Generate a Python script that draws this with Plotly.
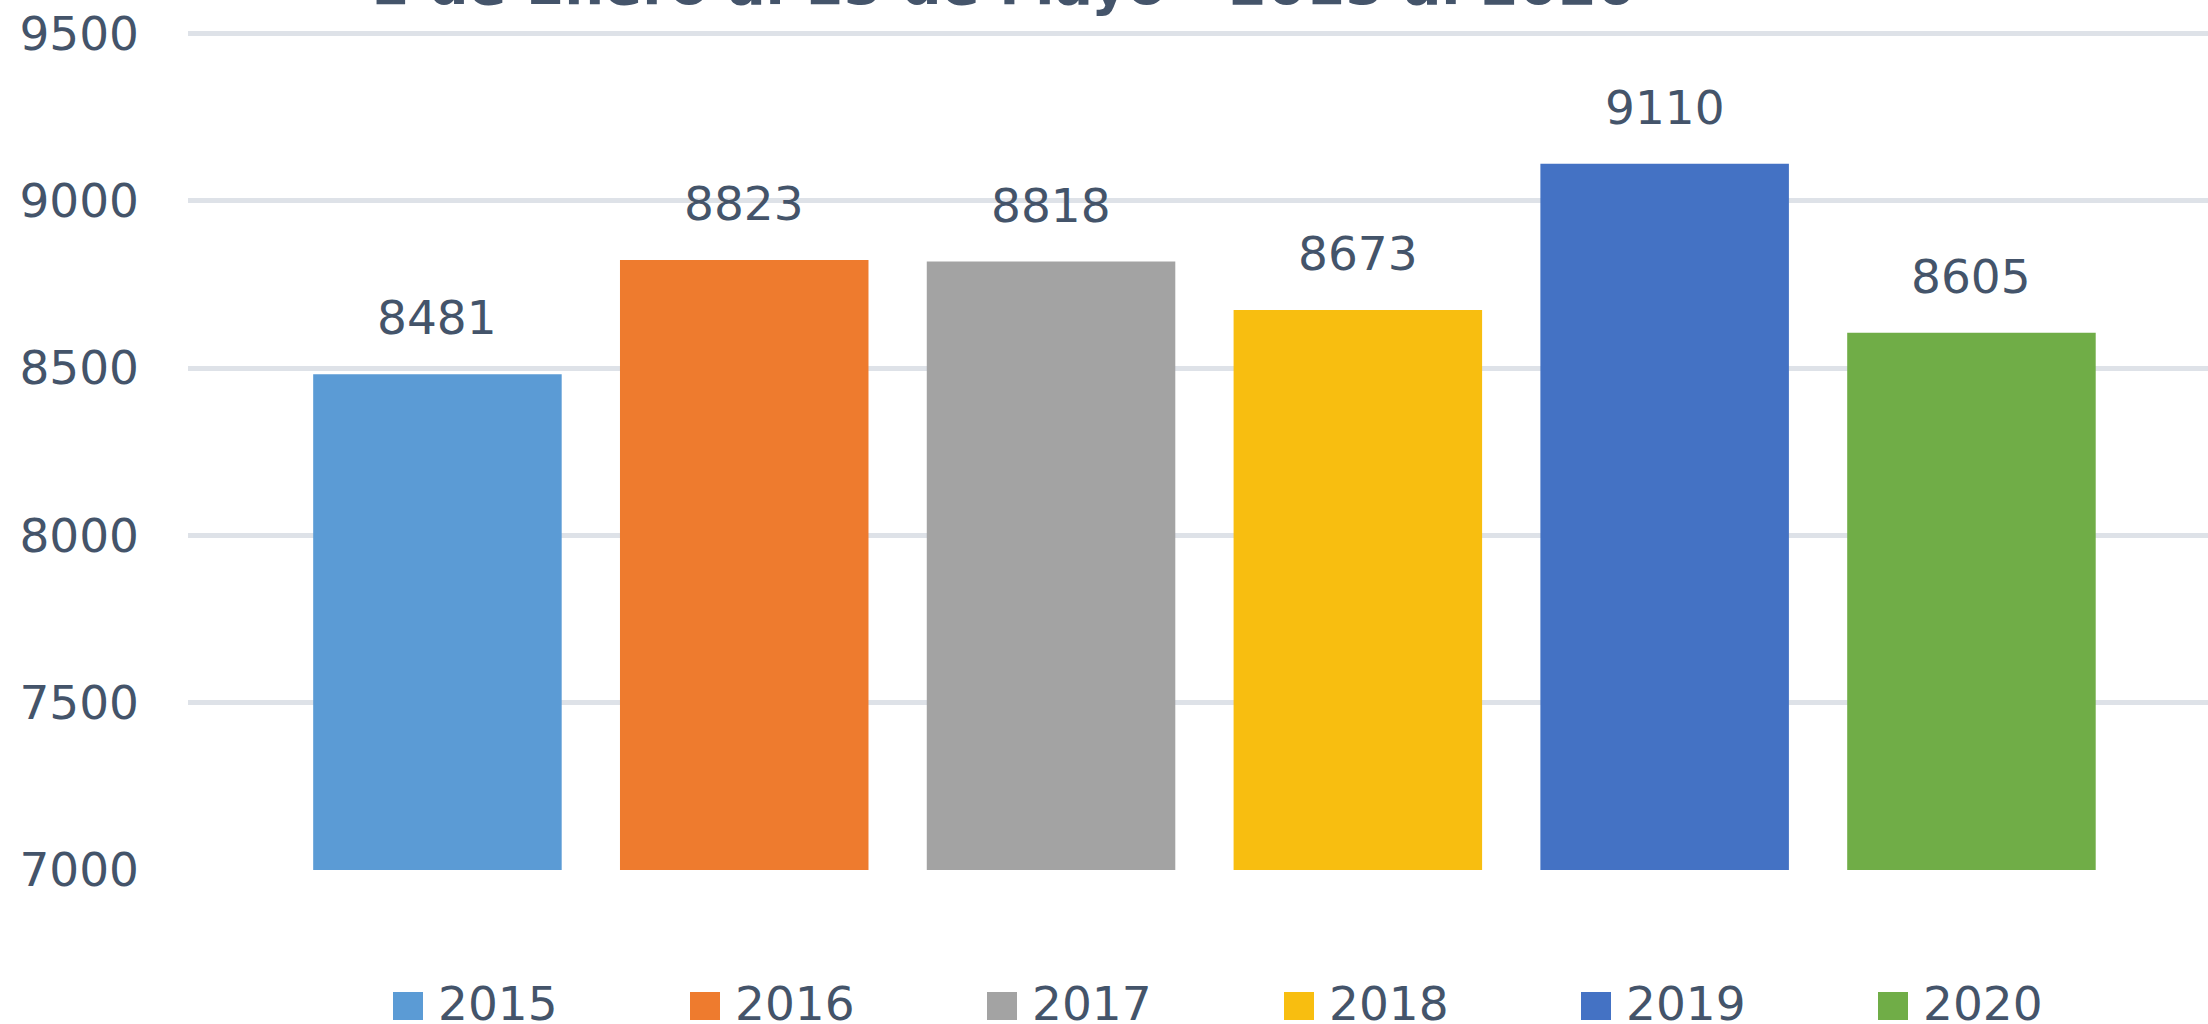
import plotly.graph_objects as go

# ---- data ----
years = ["2015", "2016", "2017", "2018", "2019", "2020"]
values = [8481, 8823, 8818, 8673, 9110, 8605]
colors = ["#5B9BD5", "#EE7B2E", "#A3A3A3", "#F8BE10", "#4472C4", "#70AD47"]
title_text = "1 de Enero al 15 de Mayo - 2015 al 2020"
y_ticks = [7000, 7500, 8000, 8500, 9000, 9500]

W, H = 2208, 1024
ML, MR, MT, MB = 188, 0, 30, 154
PW, PH = W - ML - MR, H - MT - MB
TXT = "#44546A"
FONT = "DejaVu Sans"

fig = go.Figure()
for i, (yr, v, c) in enumerate(zip(years, values, colors)):
    fig.add_trace(go.Bar(
        x=[yr], y=[v], name=yr, width=0.81,
        marker=dict(color=c, line=dict(width=0)),
        showlegend=False,
    ))
    # data label above each bar (x given as category index)
    fig.add_annotation(
        x=i, y=v, xref="x", yref="y", text=str(v), showarrow=False,
        yanchor="bottom", yshift=27,
        font=dict(family=FONT, size=47, color=TXT),
    )

# title (mostly cut off at top, as in the reference)
fig.add_annotation(
    x=(1002.5 - ML) / PW, y=1, xref="paper", yref="paper",
    text="<b>" + title_text + "</b>", showarrow=False,
    xanchor="center", yanchor="bottom", yshift=11,
    font=dict(family=FONT, size=56, color=TXT),
)

# custom legend (large squares like the reference)
leg_x0 = 393
leg_step = 297
sq_w, sq_top, sq_bot = 30, 992, 1020
for i, (yr, c) in enumerate(zip(years, colors)):
    x0 = leg_x0 + i * leg_step
    fig.add_shape(
        type="rect", xref="paper", yref="paper",
        x0=(x0 - ML) / PW, x1=(x0 + sq_w - ML) / PW,
        y0=(H - MB - sq_bot) / PH, y1=(H - MB - sq_top) / PH,
        fillcolor=c, line=dict(width=0), layer="above",
    )
    fig.add_annotation(
        x=(x0 + sq_w + 13 - ML) / PW, y=-(974 - (H - MB)) / PH,
        xref="paper", yref="paper", text=yr, showarrow=False,
        xanchor="left", yanchor="top",
        font=dict(family=FONT, size=47, color=TXT),
    )

fig.update_layout(
    width=W, height=H,
    margin=dict(l=ML, r=MR, t=MT, b=MB, pad=0),
    paper_bgcolor="white", plot_bgcolor="white",
    barmode="overlay",
    showlegend=False,
    font=dict(family=FONT, color=TXT),
    xaxis=dict(
        type="category", categoryorder="array", categoryarray=years,
        range=[-0.813, 5.771], showticklabels=False, showgrid=False,
        zeroline=False, showline=False, ticks="",
    ),
    yaxis=dict(
        range=[7000, 9510], tickvals=y_ticks,
        showgrid=True, gridcolor="#DEE2E8", gridwidth=5,
        zeroline=False, showline=False, ticks="",
        ticklabelstandoff=48,
        tickfont=dict(family=FONT, size=47, color=TXT),
    ),
)

fig.write_html(
    "out.html",
    config={"displayModeBar": False},
    post_script="document.body.style.margin='0px';document.body.style.overflow='hidden';",
)
